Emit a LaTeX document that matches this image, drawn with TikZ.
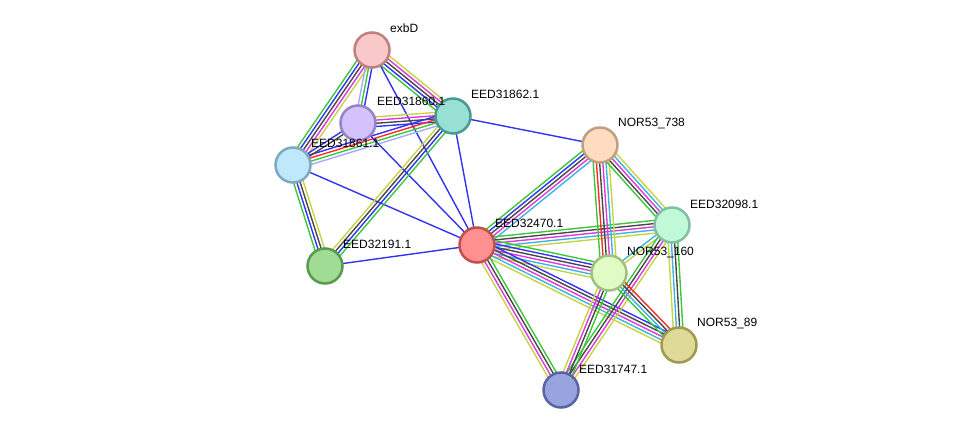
\documentclass[tikz,border=0pt]{standalone}
\usepackage{fontspec}
\setmainfont{Liberation Sans}
\usetikzlibrary{calc}
\pgfdeclarelayer{bg}
\pgfsetlayers{bg,main}
\definecolor{sgreen}{HTML}{3CC63C}
\definecolor{sred}{HTML}{FF2A2A}
\definecolor{sblue}{HTML}{3333F0}
\definecolor{sblack}{HTML}{484848}
\definecolor{smag}{HTML}{DD3ADD}
\definecolor{scyan}{HTML}{3CB4E0}
\definecolor{syel}{HTML}{C4D444}
\definecolor{slav}{HTML}{A8A8FF}
\tikzset{
  prot/.style={circle, minimum size=35pt, inner sep=0pt, line width=2.5pt},
  lbl/.style={anchor=west, font=\fontsize{12}{14}\selectfont, inner sep=0pt},
  ln/.style={line width=1.4pt},
}
\newcommand\sedge[3]{%
  \foreach \cc [count=\ii] in {#3} {\xdef\nlines{\ii}}%
  \foreach \cc [count=\ii] in {#3} {%
    \pgfmathsetmacro\off{(\ii-(\nlines+1)/2)*3.2}%
    \draw[ln,color=\cc] ($(#1)!\off pt!90:(#2)$) -- ($(#2)!\off pt!-90:(#1)$);
  }%
}
\begin{document}
\begin{tikzpicture}[x=1pt,y=-1pt]
\useasboundingbox (0,0) rectangle (976,436);
\node[prot, fill={rgb,255:red,249;green,200;blue,200}, draw={rgb,255:red,192;green,128;blue,128}] (exbD) at (372,50) {};
\node[prot, fill={rgb,255:red,211;green,194;blue,251}, draw={rgb,255:red,150;green,132;blue,196}] (e60) at (358,123) {};
\node[prot, fill={rgb,255:red,152;green,224;blue,212}, draw={rgb,255:red,74;green,154;blue,144}] (e62) at (453,116) {};
\node[prot, fill={rgb,255:red,192;green,232;blue,251}, draw={rgb,255:red,128;green,168;blue,192}] (e61) at (293,165) {};
\node[prot, fill={rgb,255:red,160;green,220;blue,148}, draw={rgb,255:red,90;green,154;blue,80}] (e91) at (325,266) {};
\node[prot, fill={rgb,255:red,255;green,144;blue,144}, draw={rgb,255:red,192;green,80;blue,80}] (e70) at (477,245) {};
\node[prot, fill={rgb,255:red,253;green,220;blue,192}, draw={rgb,255:red,192;green,160;blue,128}] (n738) at (600,145) {};
\node[prot, fill={rgb,255:red,192;green,250;blue,216}, draw={rgb,255:red,128;green,192;blue,160}] (e98) at (672,225) {};
\node[prot, fill={rgb,255:red,224;green,252;blue,196}, draw={rgb,255:red,160;green,192;blue,128}] (n160) at (609,273) {};
\node[prot, fill={rgb,255:red,224;green,218;blue,152}, draw={rgb,255:red,160;green,154;blue,80}] (n89) at (679,345) {};
\node[prot, fill={rgb,255:red,152;green,164;blue,224}, draw={rgb,255:red,90;green,100;blue,160}] (e47) at (561,390) {};
\begin{pgfonlayer}{bg}
\sedge{exbD}{e61}{sgreen,sblue,sblack,smag,syel}
\sedge{exbD}{e60}{slav,sgreen,sblue}
\sedge{exbD}{e62}{sgreen,sblue,sblack,smag,syel}
\sedge{exbD}{e70}{sblue}
\sedge{e60}{e62}{sblue,sblack,smag,syel}
\sedge{e61}{e62}{slav,sgreen,sred,sblue}
\sedge{e60}{e61}{sblue,sblack}
\sedge{e60}{e70}{sblue}
\sedge{e62}{e70}{sblue}
\sedge{e62}{n738}{sblue}
\sedge{e61}{e70}{sblue}
\sedge{e91}{e70}{sblue}
\sedge{e61}{e91}{sgreen,sblue,sblack,syel}
\sedge{e62}{e91}{syel,sblack,sblue,sgreen}
\sedge{e70}{n738}{scyan,smag,sblack,sblue,sgreen}
\sedge{e70}{e98}{syel,scyan,smag,sblack,sgreen}
\sedge{e70}{n160}{syel,scyan,smag,sblack,sblue,sgreen}
\sedge{e70}{n89}{syel,scyan,smag,sblack,sblue}
\sedge{e70}{e47}{syel,smag,sblack,sgreen}
\sedge{n738}{n160}{sgreen,sred,sblack,smag,scyan,syel}
\sedge{n738}{e98}{sgreen,sblack,smag,scyan,syel}
\sedge{e98}{n160}{scyan,syel}
\sedge{e98}{n89}{syel,scyan,sblack,sgreen}
\sedge{e98}{e47}{sgreen,sblack,smag,syel}
\sedge{n160}{n89}{sgreen,scyan,sblack,sred}
\sedge{n160}{e47}{syel,smag,sblack,sgreen}
\end{pgfonlayer}
\node[lbl] (exbD-l) at (390,28) {exbD};
\node[lbl] (e60-l) at (377,101) {EED31860.1};
\node[lbl] (e62-l) at (471,94) {EED31862.1};
\node[lbl] (e61-l) at (311,143) {EED31861.1};
\node[lbl] (e91-l) at (343,244) {EED32191.1};
\node[lbl] (e70-l) at (495,223) {EED32470.1};
\node[lbl] (n738-l) at (618,124) {NOR53\_738};
\node[lbl] (e98-l) at (690,204) {EED32098.1};
\node[lbl] (n160-l) at (627,252) {NOR53\_160};
\node[lbl] (n89-l) at (697,323) {NOR53\_89};
\node[lbl] (e47-l) at (579,369) {EED31747.1};
\end{tikzpicture}
\end{document}
